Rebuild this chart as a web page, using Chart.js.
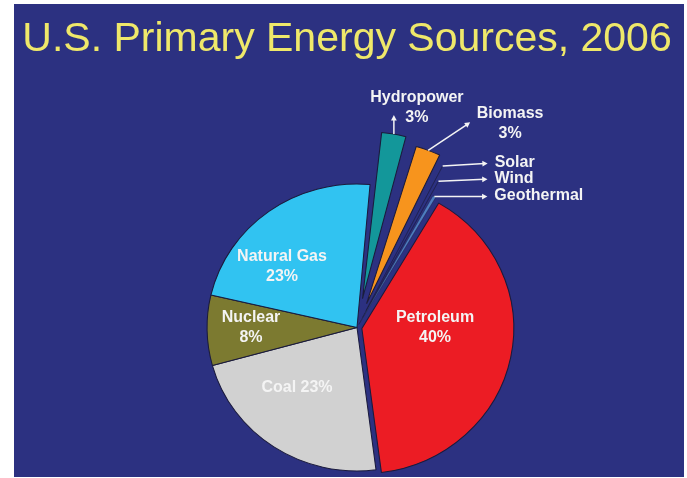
<!DOCTYPE html>
<html>
<head>
<meta charset="utf-8">
<script src="https://cdn.jsdelivr.net/npm/chart.js@4.4.0/dist/chart.umd.min.js"></script>
<style>
  html, body { margin: 0; padding: 0; background: #fff; }
  #wrap { position: absolute; left: 14px; top: 4px; width: 670px; height: 473px; background: #2c3181; }
</style>
</head>
<body>
<div id="wrap"><canvas id="pie"></canvas></div>
<script>
// slices, clockwise from the top
const sources = ['Hydropower', 'Biomass', 'Solar', 'Wind', 'Geothermal', 'Petroleum', 'Coal', 'Nuclear', 'Natural Gas'];
const shares = [3, 3, 0.3, 0.35, 0.45, 40, 23, 8, 23];
const labelLines = [
  ['Hydropower', '3%'],
  ['Biomass', '3%'],
  ['Solar'],
  ['Wind'],
  ['Geothermal'],
  ['Petroleum', '40%'],
  ['Coal 23%'],
  ['Nuclear', '8%'],
  ['Natural Gas', '23%']
];

const sliceColors = ['#13979a', '#f7941d', '#f3ea1f', '#8cc63e', '#4d7cc0', '#ec1c24', '#d1d1d1', '#7c7a30', '#31c3f1'];
const sliceBorders = [1, 1, 0.4, 0.4, 0.4, 1, 1, 1, 1];
const explode = [117, 102, 76, 45, 14, 19, 0, 0, 0];
const stretchX = 1.045; // the original pie is a little wider than tall

// label placement: "at" = block centre relative to pie centre,
// otherwise arrow vector + first text line, relative to the slice tip
const placement = [
  { arrow: [0, -19], text: [23, -36.5], align: 'center' },
  { arrow: [42, -28], text: [82, -37], align: 'center' },
  { arrow: [45, -2.5], text: [52, -3.5], align: 'left' },
  { arrow: [49, -2], text: [56, -3], align: 'left' },
  { arrow: [53, 0], text: [60, -1], align: 'left' },
  { at: [78, 0] },
  { at: [-60, 60.5] },
  { at: [-106, 0] },
  { at: [-75, -60.5] }
];
const lineGap = 20;
const fontFamily = '"Liberation Sans", Arial, sans-serif';

function drawArrow(ctx, x1, y1, x2, y2) {
  const a = Math.atan2(y2 - y1, x2 - x1);
  ctx.beginPath();
  ctx.moveTo(x1, y1);
  ctx.lineTo(x2 - Math.cos(a) * 3, y2 - Math.sin(a) * 3);
  ctx.stroke();
  ctx.beginPath();
  ctx.moveTo(x2, y2);
  ctx.lineTo(x2 - Math.cos(a - 0.5) * 6, y2 - Math.sin(a - 0.5) * 6);
  ctx.lineTo(x2 - Math.cos(a + 0.5) * 6, y2 - Math.sin(a + 0.5) * 6);
  ctx.closePath();
  ctx.fill();
}

const stretch = {
  id: 'stretch',
  beforeDatasetsDraw(chart) {
    const arc = chart.getDatasetMeta(0).data[0];
    const ctx = chart.ctx;
    ctx.save();
    ctx.translate(arc.x, arc.y);
    ctx.scale(stretchX, 1);
    ctx.translate(-arc.x, -arc.y);
  },
  afterDatasetsDraw(chart) {
    chart.ctx.restore();
  }
};

const heading = {
  id: 'heading',
  afterDraw(chart) {
    const ctx = chart.ctx;
    ctx.save();
    ctx.font = '41px ' + fontFamily;
    ctx.fillStyle = '#efe86a';
    ctx.textAlign = 'center';
    ctx.textBaseline = 'middle';
    ctx.fillText('U.S. Primary Energy Sources, 2006', chart.width / 2 - 2, 35.5);
    ctx.restore();
  }
};

const callouts = {
  id: 'callouts',
  afterDraw(chart) {
    const ctx = chart.ctx;
    const meta = chart.getDatasetMeta(0);
    ctx.save();
    ctx.font = 'bold 16px ' + fontFamily;
    ctx.fillStyle = '#f4f4f4';
    ctx.strokeStyle = '#f4f4f4';
    ctx.lineWidth = 1.5;
    ctx.textBaseline = 'middle';
    meta.data.forEach((arc, i) => {
      const p = arc.getProps(['x', 'y', 'startAngle', 'endAngle', 'outerRadius'], true);
      const place = placement[i];
      const lines = labelLines[i];
      if (place.at) {
        ctx.textAlign = 'center';
        const top = p.y + place.at[1] - (lines.length - 1) * lineGap / 2;
        lines.forEach((t, k) => ctx.fillText(t, p.x + place.at[0], top + k * lineGap));
        return;
      }
      const mid = (p.startAngle + p.endAngle) / 2;
      const circ = p.endAngle - p.startAngle;
      const shift = (arc.options.offset || 0) / 4 * (2 - Math.sin(Math.min(Math.PI, circ)));
      const r = p.outerRadius + shift;
      const tx = p.x + Math.cos(mid) * r * stretchX;
      const ty = p.y + Math.sin(mid) * r;
      drawArrow(ctx, tx, ty, tx + place.arrow[0], ty + place.arrow[1]);
      ctx.textAlign = place.align;
      lines.forEach((t, k) => ctx.fillText(t, tx + place.text[0], ty + place.text[1] + k * lineGap));
    });
    ctx.restore();
  }
};

new Chart(document.getElementById('pie'), {
  type: 'pie',
  data: {
    labels: sources,
    datasets: [{
      data: shares,
      backgroundColor: sliceColors,
      offset: explode,
      borderColor: '#1b1b3c',
      borderWidth: sliceBorders
    }]
  },
  options: {
    responsive: true,
    maintainAspectRatio: false,
    animation: false,
    rotation: 5,
    radius: 143.5,
    layout: { padding: { left: 16, right: 0, top: 174, bottom: 0 } },
    plugins: {
      legend: { display: false },
      tooltip: { enabled: false },
      title: { display: false }
    }
  },
  plugins: [stretch, callouts, heading]
});
</script>
</body>
</html>
